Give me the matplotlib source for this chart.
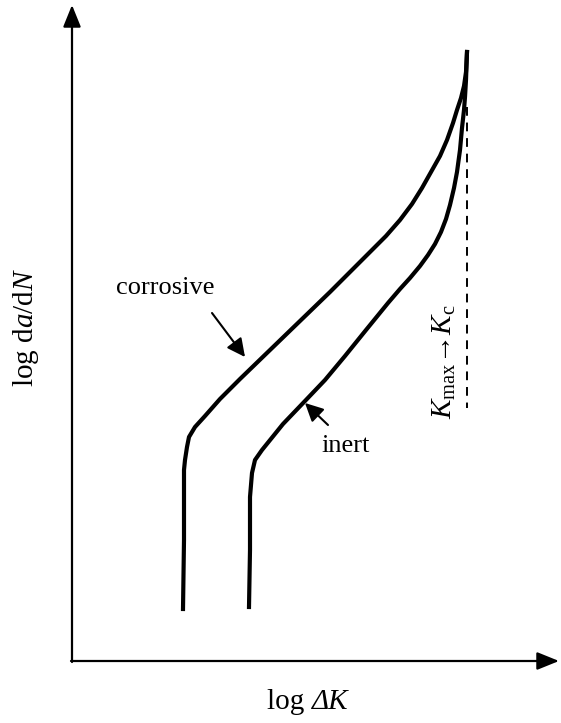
import matplotlib
matplotlib.use("Agg")
import matplotlib.pyplot as plt

plt.rcParams['font.family'] = ['Liberation Serif', 'DejaVu Serif']
plt.rcParams['mathtext.fontset'] = 'custom'
plt.rcParams['mathtext.rm'] = 'Liberation Serif'
plt.rcParams['mathtext.it'] = 'Liberation Serif:italic'

# Schematic curves (x: log dK, y: log da/dN) in its pixel frame
corrosive_x = [183, 184, 184, 185, 187, 189, 195, 205, 220, 240, 270, 300, 330, 355, 372, 386,
               400, 412, 422, 431, 440, 447, 453, 457, 461, 464, 466, 467]
corrosive_y = [609, 540, 470, 460, 447, 437, 427, 416, 399, 379, 350, 321, 292, 267, 250, 236,
               220, 204, 188, 172, 156, 140, 123, 110, 98, 86, 72, 52]

inert_x = [249, 250, 250, 252, 255, 262, 283, 305, 325, 345, 366, 388, 400, 410, 420, 428,
           435, 441, 446, 450, 454, 457, 460, 462, 464, 465, 466, 467]
inert_y = [607, 550, 497, 473, 460, 450, 424, 401, 380, 356, 330, 303, 289, 278, 266, 255,
           244, 232, 219, 205, 188, 172, 150, 128, 110, 97, 80, 52]

kc_x = [467, 467]
kc_y = [107, 408]

x_label_log = 'log '
x_label_var = 'ΔK'
y_label = r'log d$a$/d$N$'
kc_label = r'$K_{\mathrm{max}}$→$K_{\mathrm{c}}$'

fig = plt.figure(figsize=(5.61, 7.23), dpi=100)
ax = fig.add_axes([0, 0, 1, 1])
ax.set_xlim(0, 561)
ax.set_ylim(723, 0)
ax.axis('off')

# axes with arrows
axis_kw = dict(arrowstyle='-|>,head_length=0.42,head_width=0.17', lw=1.6, color='black',
               shrinkA=0, shrinkB=0, mutation_scale=32)
ax.annotate('', xy=(72, 5), xytext=(72, 662), arrowprops=axis_kw)
ax.annotate('', xy=(559, 661), xytext=(71, 661), arrowprops=axis_kw)

ax.plot(corrosive_x, corrosive_y, color='black', lw=3.0, solid_joinstyle='round')
ax.plot(inert_x, inert_y, color='black', lw=3.0, solid_joinstyle='round')
ax.plot(kc_x, kc_y, color='black', lw=1.4, linestyle=(0, (4.5, 3.5)))

# annotations
arr_kw = dict(arrowstyle='-|>,head_length=0.5,head_width=0.25', lw=1.5, color='black',
              shrinkA=0, shrinkB=0, mutation_scale=22)
ax.annotate('', xy=(245, 357), xytext=(212, 313), arrowprops=arr_kw)
ax.annotate('', xy=(305, 403), xytext=(328, 425), arrowprops=arr_kw)

ax.text(165, 288, 'corrosive', fontsize=19, ha='center', va='center')
ax.text(346, 446, 'inert', fontsize=19, ha='center', va='center')
ax.text(444, 362, kc_label, fontsize=21, ha='center', va='center', rotation=90)

ax.text(312, 702, x_label_log, fontsize=21, ha='right', va='center')
ax.text(312, 702, x_label_var, fontsize=21, ha='left', va='center', style='italic')
ax.text(26, 327, y_label, fontsize=21, ha='center', va='center', rotation=90)

fig.savefig('out.png', dpi=100)
